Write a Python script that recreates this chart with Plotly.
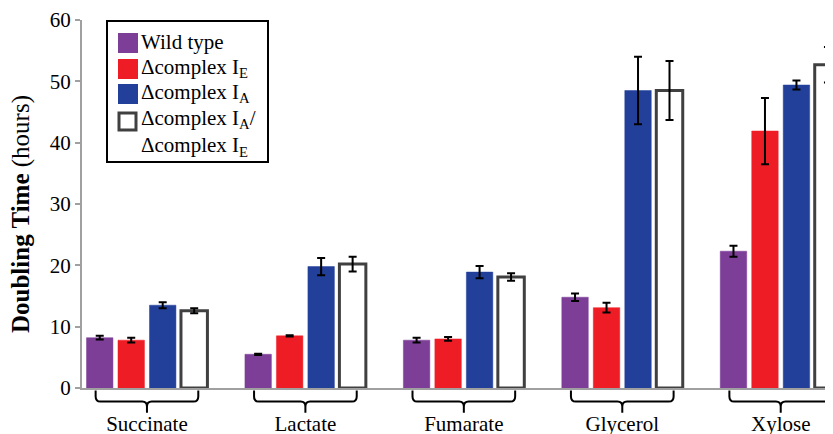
import plotly.graph_objects as go

categories = ["Succinate", "Lactate", "Fumarate", "Glycerol", "Xylose"]
series_names = [
    "Wild type",
    "\u0394complex I<sub>E</sub>",
    "\u0394complex I<sub>A</sub>",
    "\u0394complex I<sub>A</sub>/<br>\u0394complex I<sub>E</sub>",
]
wild_type = [8.2, 5.5, 7.8, 14.8, 22.3]
wild_type_err = [0.3, 0.1, 0.4, 0.6, 0.9]
complex_ie = [7.8, 8.5, 8.0, 13.1, 41.9]
complex_ie_err = [0.4, 0.1, 0.3, 0.8, 5.4]
complex_ia = [13.5, 19.8, 18.9, 48.5, 49.4]
complex_ia_err = [0.5, 1.4, 1.0, 5.5, 0.75]
complex_ia_ie = [12.6, 20.2, 18.1, 48.5, 52.7]
complex_ia_ie_err = [0.4, 1.2, 0.6, 4.8, 2.9]
y_ticks = [0, 10, 20, 30, 40, 50, 60]
y_title = "<b>Doubling Time</b> (hours)"

FONT = "Liberation Serif"
xpos = list(range(len(categories)))

values = [wild_type, complex_ie, complex_ia, complex_ia_ie]
errors = [wild_type_err, complex_ie_err, complex_ia_err, complex_ia_ie_err]
fills = ["#7D3E98", "#EE1D25", "#22409A", "#FFFFFF"]
outlines = ["#7D3E98", "#EE1D25", "#22409A", "#404040"]
outline_w = [0.5, 0.5, 0.5, 3]

# the page body adds an 8px margin, so the figure is 8px smaller each way
OFF = 8
W, H = 833 - OFF, 434 - OFF
ML, MR, MT, MB = 82 - OFF, 0, 20 - OFF, 46
PW, PH = W - ML - MR, H - MT - MB


def px(xp):
    return (xp - OFF - ML) / PW


def py(yp):
    return (H - MB - (yp - OFF)) / PH


fig = go.Figure()
for name, v, e, fc, lc, lw in zip(series_names, values, errors, fills, outlines, outline_w):
    fig.add_trace(go.Bar(
        x=xpos, y=v, name=name, showlegend=False,
        marker=dict(color=fc, line=dict(color=lc, width=lw)),
        error_y=dict(type="data", array=e, visible=True, color="black",
                     thickness=2, width=4),
    ))

# curly brackets under each group
hw, rx = 0.324, 0.03
yt, yl, yb, ry = -0.007, -0.037, -0.067, 0.014
shapes = []
for i in xpos:
    p = (f"M {i-hw},{yt} L {i-hw},{yl+ry} Q {i-hw},{yl} {i-hw+rx},{yl} "
         f"L {i-rx},{yl} Q {i},{yl} {i},{yl-ry} L {i},{yb} "
         f"M {i},{yl-ry} Q {i},{yl} {i+rx},{yl} L {i+hw-rx},{yl} "
         f"Q {i+hw},{yl} {i+hw},{yl+ry} L {i+hw},{yt}")
    shapes.append(dict(type="path", xref="x", yref="paper", path=p,
                       line=dict(color="black", width=2)))

# hand-drawn legend box
shapes.append(dict(type="rect", xref="paper", yref="paper",
                   x0=px(107), x1=px(268), y0=py(162), y1=py(21),
                   line=dict(color="black", width=2), fillcolor="white",
                   layer="above"))
annotations = []
sw_top = [33, 59, 84, 111]
txt_center = [42, 68, 93, 133]
for k, (name, fc, lc) in enumerate(zip(series_names, fills, outlines)):
    if k == 3:
        shapes.append(dict(type="rect", xref="paper", yref="paper",
                           x0=px(119), x1=px(136), y0=py(sw_top[k] + 19), y1=py(sw_top[k] + 2),
                           line=dict(color=lc, width=3), fillcolor=fc, layer="above"))
    else:
        shapes.append(dict(type="rect", xref="paper", yref="paper",
                           x0=px(118), x1=px(138), y0=py(sw_top[k] + 20), y1=py(sw_top[k]),
                           line=dict(width=0), fillcolor=fc, layer="above"))
    annotations.append(dict(xref="paper", yref="paper", x=px(139), y=py(txt_center[k]),
                            xanchor="left", yanchor="middle", align="left",
                            text=name, showarrow=False,
                            font=dict(family=FONT, size=21, color="black")))

# y axis title
annotations.append(dict(xref="paper", yref="paper", x=px(21), y=py(214),
                        xanchor="center", yanchor="middle", textangle=-90,
                        text=y_title, showarrow=False,
                        font=dict(family=FONT, size=25, color="black")))

fig.update_layout(
    width=W, height=H,
    margin=dict(l=ML, r=MR, t=MT, b=MB, autoexpand=False),
    paper_bgcolor="white", plot_bgcolor="white",
    font=dict(family=FONT, size=21, color="black"),
    barmode="group", bargap=0.205, bargroupgap=0.16,
    showlegend=False,
    shapes=shapes,
    annotations=annotations,
    xaxis=dict(range=[-0.41, 4.33], tickvals=xpos, ticktext=categories,
               automargin=False,
               showline=True, linecolor="#A0A0A0", linewidth=2,
               showgrid=False, zeroline=False, ticks="",
               ticklabelstandoff=16,
               tickfont=dict(family=FONT, size=21, color="black")),
    yaxis=dict(range=[0, 60], tickvals=y_ticks, automargin=False,
               showline=True, linecolor="#A0A0A0", linewidth=2,
               ticks="outside", ticklen=5, tickcolor="#A0A0A0", tickwidth=2,
               showgrid=False, zeroline=False,
               tickfont=dict(family=FONT, size=21, color="black")),
)

fig.write_html("out.html")
